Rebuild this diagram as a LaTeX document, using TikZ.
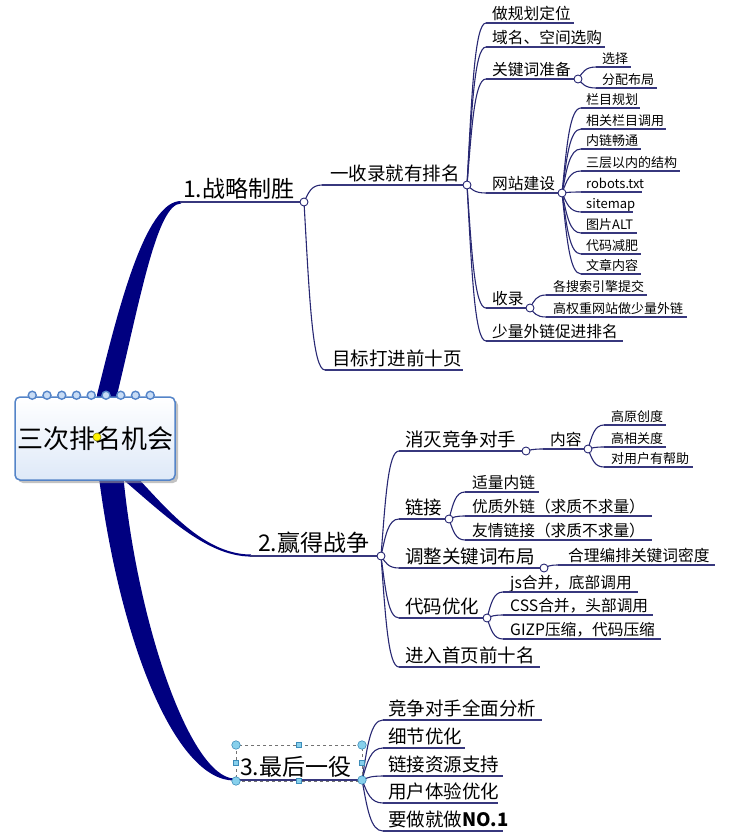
\documentclass[tikz,border=0pt]{standalone}
\usepackage{fontspec}
\setmainfont{Noto Sans CJK SC}
\usetikzlibrary{calc,shadows}
\definecolor{navy}{RGB}{0,0,128}
\definecolor{connc}{RGB}{40,40,115}
\definecolor{ulnc}{RGB}{55,55,125}
\definecolor{boxblue}{RGB}{84,132,200}
\definecolor{boxfill}{RGB}{222,233,248}
\definecolor{ringfill}{RGB}{200,220,245}
\definecolor{handlef}{RGB}{135,208,236}
\definecolor{handleb}{RGB}{60,140,185}
\tikzset{
 fA/.style={font=\fontsize{23pt}{25pt}\selectfont, yshift=5pt},
 fB/.style={font=\fontsize{18.5pt}{20pt}\selectfont, yshift=4.5pt},
 fC/.style={font=\fontsize{15.7pt}{17pt}\selectfont, yshift=4pt},
 fD/.style={font=\fontsize{13pt}{15pt}\selectfont, yshift=3.5pt},
 lbl/.style={anchor=base west, inner sep=0pt},
 uline/.style={draw=ulnc, line width=1.3pt},
 connline/.style={draw=connc, line width=1.1pt},
 knob/.style={circle, draw=connc, fill=white, line width=0.9pt, minimum size=8pt, inner sep=0pt},
 hcirc/.style={circle, draw=handleb, fill=handlef, line width=0.6pt, minimum size=8.5pt, inner sep=0pt},
 hsq/.style={rectangle, draw=handleb, fill=handlef, line width=0.6pt, minimum size=5.5pt, inner sep=0pt},
 selbox/.style={draw=black!55, dashed, line width=0.6pt},
 ring/.style={draw=boxblue, fill=ringfill, line width=1.4pt},
 rootbox/.style={draw=boxblue, line width=1.5pt, rounded corners=5pt, top color=white, bottom color=boxfill,
   minimum width=160pt, minimum height=83pt, inner sep=0pt, font=\fontsize{26pt}{28pt}\selectfont,
   drop shadow={shadow xshift=3pt, shadow yshift=-3pt, fill=black!40, opacity=.6}},
}
\newcommand\mmtopic[7]{%
 \coordinate (#1L) at (#3,#5);
 \coordinate (#1R) at (#4,#5);
 \node[lbl,#2] (#1) at (#6,#5) {#7};
 \draw[uline] (#1L) -- (#1R);
}
\newcommand\mmlink[2]{\draw[connline] let \p1=(#1), \p2=(#2) in (\p1) .. controls ({\x1+0.25*(\x2-\x1)},{\y1+0.55*(\y2-\y1)}) and ({\x1+0.4*(\x2-\x1)},\y2) .. (\p2);}
\begin{document}
\begin{tikzpicture}[x=1pt,y=-1pt]
\useasboundingbox (0,0) rectangle (741,838);
% thick main branches
\fill[navy] (97,420) -- (97,395) .. controls (118,310) and (145,201) .. (181,201) -- (181,203.5) .. controls (157,203.5) and (140,300) .. (117,395) -- (117,420) -- cycle;
\fill[navy] (125,455) -- (130,470) .. controls (160,500) and (200,554.5) .. (251,554.5) -- (251,556.6) .. controls (205,556) and (165,515) .. (112,470) -- (110,455) -- cycle;
\fill[navy] (97,462) .. controls (118,640) and (175,780.5) .. (234,780.5) -- (234,778.5) .. controls (190,777) and (135,620) .. (122,462) -- cycle;
% root
\node[rootbox] (root) at (95,438.5) {三次排名机会};
\foreach \i in {0,...,8} \draw[ring] ($(root.north west)+(18+\i*14.75,-1)$) circle (4pt);
\node[circle, draw=olive, fill=yellow, line width=0.6pt, minimum size=8pt, inner sep=0pt] (dot) at (97,437) {};
% topics
\mmtopic{b1}{fA}{180}{304}{202}{183}{1.战略制胜}
\mmtopic{b2}{fA}{250}{381}{556}{258}{2.赢得战争}
\mmtopic{b3}{fA}{233}{362}{780}{240}{3.最后一役}
\mmtopic{c11}{fB}{322}{467}{185}{330}{一收录就有排名}
\mmtopic{c12}{fB}{325}{463}{370}{332}{目标打进前十页}
\mmtopic{d1}{fC}{486}{574}{23}{492}{做规划定位}
\mmtopic{d2}{fC}{486}{605}{47}{492}{域名、空间选购}
\mmtopic{d3}{fC}{486}{578}{79}{492}{关键词准备}
\mmtopic{d4}{fC}{486}{562}{193}{492}{网站建设}
\mmtopic{d5}{fC}{486}{530}{308}{492}{收录}
\mmtopic{d6}{fC}{486}{623}{341}{492}{少量外链促进排名}
\mmtopic{e1}{fD}{596}{631}{67}{602}{选择}
\mmtopic{e2}{fD}{596}{657}{88}{602}{分配布局}
\mmtopic{f1}{fD}{581}{640}{108}{586}{栏目规划}
\mmtopic{f2}{fD}{581}{666}{129}{586}{相关栏目调用}
\mmtopic{f3}{fD}{581}{641}{149}{586}{内链畅通}
\mmtopic{f4}{fD}{581}{680}{171}{586}{三层以内的结构}
\mmtopic{f5}{fD}{581}{642}{192}{586}{robots.txt}
\mmtopic{f6}{fD}{581}{633}{212}{586}{sitemap}
\mmtopic{f7}{fD}{581}{637}{233}{586}{图片ALT}
\mmtopic{f8}{fD}{581}{641}{254}{586}{代码减肥}
\mmtopic{f9}{fD}{581}{641}{274}{586}{文章内容}
\mmtopic{g1}{fD}{546}{647}{295}{553}{各搜索引擎提交}
\mmtopic{g2}{fD}{546}{687}{317}{553}{高权重网站做少量外链}
\mmtopic{h1}{fB}{399}{526}{451}{405}{消灭竞争对手}
\mmtopic{h2}{fB}{399}{449}{519}{405}{链接}
\mmtopic{h3}{fB}{399}{544}{568}{405}{调整关键词布局}
\mmtopic{h4}{fB}{399}{487}{618}{405}{代码优化}
\mmtopic{h5}{fB}{399}{540}{667}{405}{进入首页前十名}
\mmtopic{k0}{fC}{543}{588}{449}{550}{内容}
\mmtopic{k1}{fD}{604}{666}{425}{611}{高原创度}
\mmtopic{k2}{fD}{604}{666}{447}{611}{高相关度}
\mmtopic{k3}{fD}{604}{693}{467}{611}{对用户有帮助}
\mmtopic{m1}{fC}{465}{539}{492}{472}{适量内链}
\mmtopic{m2}{fC}{465}{652}{516}{472}{优质外链（求质不求量）}
\mmtopic{m3}{fC}{465}{652}{540}{472}{友情链接（求质不求量）}
\mmtopic{n1}{fC}{558}{715}{565}{568}{合理编排关键词密度}
\mmtopic{p1}{fC}{503}{638}{592}{510}{js合并，底部调用}
\mmtopic{p2}{fC}{503}{653}{615}{510}{CSS合并，头部调用}
\mmtopic{p3}{fC}{503}{661}{639}{510}{GIZP压缩，代码压缩}
\mmtopic{q1}{fB}{383}{542}{720}{388}{竞争对手全面分析}
\mmtopic{q2}{fB}{383}{465}{748}{388}{细节优化}
\mmtopic{q3}{fB}{383}{503}{776}{388}{链接资源支持}
\mmtopic{q4}{fB}{383}{498}{803}{388}{用户体验优化}
\mmtopic{q5}{fB}{383}{503}{831}{388}{要做就做\textbf{NO.1}}
% connectors
\mmlink{b1R}{c11L}\mmlink{b1R}{c12L}
\foreach \c in {d1,d2,d3,d4,d5,d6} {\mmlink{c11R}{\c L}}
\mmlink{d3R}{e1L}\mmlink{d3R}{e2L}
\foreach \c in {f1,f2,f3,f4,f5,f6,f7,f8,f9} {\mmlink{d4R}{\c L}}
\mmlink{d5R}{g1L}\mmlink{d5R}{g2L}
\foreach \c in {h1,h2,h3,h4,h5} {\mmlink{b2R}{\c L}}
\mmlink{h1R}{k0L}
\foreach \c in {k1,k2,k3} {\mmlink{k0R}{\c L}}
\foreach \c in {m1,m2,m3} {\mmlink{h2R}{\c L}}
\mmlink{h3R}{n1L}
\foreach \c in {p1,p2,p3} {\mmlink{h4R}{\c L}}
\foreach \c in {q1,q2,q3,q4,q5} {\mmlink{b3R}{\c L}}
% knobs
\foreach \k in {b1R,c11R,d3R,d4R,d5R,b2R,h1R,k0R,h2R,h3R,h4R} {\node[knob] at (\k) {};}
% selection handles on 3.最后一役
\draw[selbox] (236,745) rectangle (362,781);
\node[hcirc] (s1) at (236,745) {};
\node[hcirc] (s2) at (362,745) {};
\node[hcirc] (s3) at (236,781) {};
\node[hcirc] (s4) at (b3R) {};
\node[hsq] (s5) at (299,745) {};
\node[hsq] (s6) at (299,781) {};
\node[hsq] (s7) at (236,763) {};
\node[hsq] (s8) at (362,763) {};
\end{tikzpicture}
\end{document}
